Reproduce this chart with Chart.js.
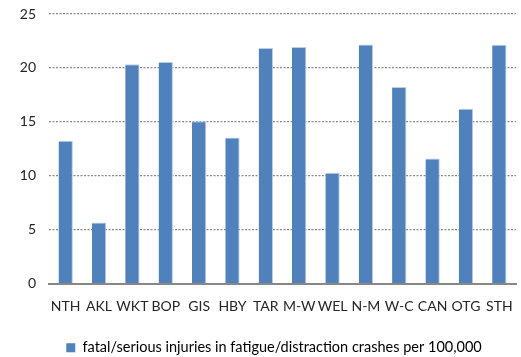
<!DOCTYPE html>
<html>
<head>
<meta charset="utf-8">
<script src="https://cdn.jsdelivr.net/npm/chart.js@4/dist/chart.umd.min.js"></script>
<style>
    html, body { margin: 0; padding: 0; background: #fff; overflow: hidden; }
    #wrap { width: 521px; height: 365px; }
</style>
</head>
<body>
<div id="wrap"><canvas id="chart"></canvas></div>
<script>
// Regiones y tasas por 100.000 habitantes
var regions = ['NTH', 'AKL', 'WKT', 'BOP', 'GIS', 'HBY', 'TAR', 'M-W', 'WEL', 'N-M', 'W-C', 'CAN', 'OTG', 'STH'];
var rates = [13.25, 5.65, 20.35, 20.55, 15.05, 13.55, 21.85, 21.95, 10.27, 22.17, 18.23, 11.6, 16.22, 22.14];
var yTicks = [0, 5, 10, 15, 20, 25];
var seriesLabel = 'fatal/serious injuries in fatigue/distraction crashes per 100,000';

var fontFamily = 'Lato, "Open Sans", sans-serif';
var barColor = '#4f81bd';

// Desplaza la leyenda un poco a la derecha (centrada bajo el área del gráfico)
var legendShift = {
    id: 'legendShift',
    afterLayout: function(chart) {
        if (chart.legend) {
            chart.legend.left += 16;
            chart.legend.right += 16;
        }
    }
};

new Chart(document.getElementById('chart').getContext('2d'), {
    type: 'bar',
    data: {
        labels: regions,
        datasets: [{
            label: seriesLabel,
            data: rates,
            backgroundColor: barColor,
            borderColor: '#b9cde5',
            borderWidth: { top: 1, right: 1, left: 0, bottom: 0 },
            borderSkipped: 'bottom',
            categoryPercentage: 1,
            barPercentage: 0.43
        }]
    },
    plugins: [legendShift],
    options: {
        responsive: true,
        maintainAspectRatio: false,
        animation: false,
        layout: { padding: { top: 14, right: 5, left: 0, bottom: 0 } },
        plugins: {
            tooltip: { enabled: false },
            legend: {
                position: 'bottom',
                labels: {
                    font: { family: fontFamily, size: 14.5 },
                    color: '#262626',
                    boxWidth: 9,
                    boxHeight: 9,
                    padding: 4,
                    generateLabels: function(chart) {
                        return [{
                            text: seriesLabel,
                            fillStyle: barColor,
                            strokeStyle: barColor,
                            lineWidth: 0,
                            datasetIndex: 0
                        }];
                    }
                }
            }
        },
        scales: {
            x: {
                grid: { display: false },
                border: { display: true, color: '#878787', width: 2 },
                afterFit: function(axis) { axis.height = 53; },
                ticks: {
                    font: { family: fontFamily, size: 14 },
                    color: '#262626',
                    padding: 7,
                    maxRotation: 0,
                    autoSkip: false
                }
            },
            y: {
                min: 0,
                max: 25,
                afterBuildTicks: function(axis) {
                    axis.ticks = yTicks.map(function(v) { return { value: v }; });
                },
                afterFit: function(axis) {
                    axis.width = 49;
                    axis.paddingTop = 0;
                },
                grid: {
                    drawTicks: false,
                    lineWidth: 1.2,
                    color: function(ctx) {
                        return ctx.tick && ctx.tick.value === 0 ? 'rgba(0,0,0,0)' : '#8a8a8a';
                    }
                },
                border: { display: false, dash: [2, 1.5] },
                ticks: {
                    font: { family: fontFamily, size: 14 },
                    color: '#262626',
                    padding: 13
                }
            }
        }
    }
});
</script>
</body>
</html>
